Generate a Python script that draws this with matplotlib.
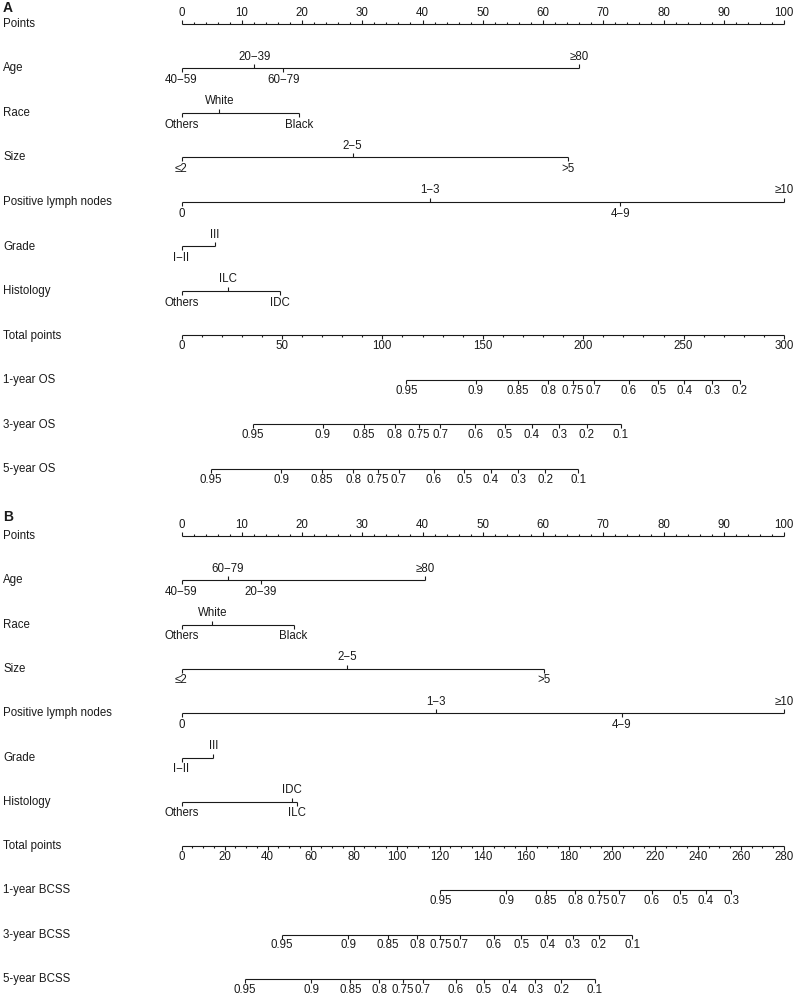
import matplotlib.pyplot as plt
import matplotlib.transforms as mtransforms
import numpy as np

plt.rcParams['font.family'] = ['Liberation Sans', 'DejaVu Sans']

# ---------------- panel A : overall survival ----------------
a_rows = ["Points", "Age", "Race", "Size", "Positive lymph nodes", "Grade",
          "Histology", "Total points", "1-year OS", "3-year OS", "5-year OS"]

a_age_labels = ["40\u221259", "20\u221239", "60\u221279", "\u226580"]
a_age_pts = [0, 12.1, 16.9, 66.0]
a_race_labels = ["Others", "White", "Black"]
a_race_pts = [0, 6.3, 19.5]
a_size_labels = ["\u22642", "2\u22125", ">5"]
a_size_pts = [0, 28.4, 64.2]
a_lymph_labels = ["0", "1\u22123", "4\u22129", "\u226510"]
a_lymph_pts = [0, 41.3, 72.8, 100]
a_grade_labels = ["I\u2212II", "III"]
a_grade_pts = [0, 5.5]
a_hist_labels = ["Others", "ILC", "IDC"]
a_hist_pts = [0, 7.7, 16.3]

a_total_max = 300
a_total_step = 50
a_total_minor = 10

a_os1_probs = [0.95, 0.9, 0.85, 0.8, 0.75, 0.7, 0.6, 0.5, 0.4, 0.3, 0.2]
a_os1_total = [112.0, 146.6, 167.5, 182.7, 195.0, 205.2, 222.6, 237.3, 250.4, 264.2, 277.9]
a_os3_probs = [0.95, 0.9, 0.85, 0.8, 0.75, 0.7, 0.6, 0.5, 0.4, 0.3, 0.2, 0.1]
a_os3_total = [35.6, 70.4, 90.9, 106.3, 118.2, 128.8, 146.2, 161.0, 174.5, 188.2, 201.7, 218.7]
a_os5_probs = [0.95, 0.9, 0.85, 0.8, 0.75, 0.7, 0.6, 0.5, 0.4, 0.3, 0.2, 0.1]
a_os5_total = [14.7, 49.6, 70.0, 85.4, 97.7, 108.1, 125.7, 140.7, 154.0, 167.7, 181.2, 197.6]

# ---------------- panel B : breast cancer specific survival ----------------
b_rows = ["Points", "Age", "Race", "Size", "Positive lymph nodes", "Grade",
          "Histology", "Total points", "1-year BCSS", "3-year BCSS", "5-year BCSS"]

b_age_labels = ["40\u221259", "60\u221279", "20\u221239", "\u226580"]
b_age_pts = [0, 7.7, 13.2, 40.4]
b_race_labels = ["Others", "White", "Black"]
b_race_pts = [0, 5.1, 18.6]
b_size_labels = ["\u22642", "2\u22125", ">5"]
b_size_pts = [0, 27.5, 60.1]
b_lymph_labels = ["0", "1\u22123", "4\u22129", "\u226510"]
b_lymph_pts = [0, 42.3, 73.1, 100]
b_grade_labels = ["I\u2212II", "III"]
b_grade_pts = [0, 5.3]
b_hist_labels = ["Others", "IDC", "ILC"]
b_hist_pts = [0, 18.4, 19.1]

b_total_max = 280
b_total_step = 20
b_total_minor = 5

b_bcss1_probs = [0.95, 0.9, 0.85, 0.8, 0.75, 0.7, 0.6, 0.5, 0.4, 0.3]
b_bcss1_total = [120.3, 150.9, 169.5, 183.1, 194.0, 203.2, 218.5, 231.7, 243.6, 255.5]
b_bcss3_probs = [0.95, 0.9, 0.85, 0.8, 0.75, 0.7, 0.6, 0.5, 0.4, 0.3, 0.2, 0.1]
b_bcss3_total = [46.5, 77.6, 95.9, 109.5, 120.3, 129.5, 145.0, 158.0, 169.9, 181.9, 194.0, 209.5]
b_bcss5_probs = [0.95, 0.9, 0.85, 0.8, 0.75, 0.7, 0.6, 0.5, 0.4, 0.3, 0.2, 0.1]
b_bcss5_total = [29.3, 60.3, 78.5, 91.9, 102.8, 112.0, 127.4, 140.4, 152.3, 164.4, 176.4, 192.1]

# ---------------- style ----------------
W, H = 794, 996
INK = '#1a1a1a'
LW = 0.8
FS = 8.3
TICK = 2.6      # major tick length (pt)
MINOR = 1.3
OFF = 8.3       # label offset from a variable line (pt)
OFF_AXIS = 7.6  # label offset from the numeric / survival lines (pt)
X0, X1 = 181.5, 784

fig = plt.figure(figsize=(W / 100, H / 100), dpi=100)


def panel_axes(y_first, step):
    top = y_first - step / 2
    bottom = y_first + 10 * step + step / 2
    ax = fig.add_axes([X0 / W, 1 - bottom / H, (X1 - X0) / W, (bottom - top) / H])
    ax.set_xlim(0, 100)
    ax.set_ylim(10.5, -0.5)
    ax.axis('off')
    return ax


def label(ax, text, x, row, above, off=OFF):
    ax.annotate(text, (x, row), xytext=(0, off if above else -off),
                textcoords='offset points', ha='center', va='center',
                fontsize=FS, color=INK, annotation_clip=False)


def scale_row(ax, row, vmax, step, minor, above):
    # numeric axis (Points / Total points)
    f = 100.0 / vmax
    ax.plot([0, 100], [row, row], color=INK, lw=LW, solid_capstyle='butt', clip_on=False)
    mk = 2 if above else 3
    majors = np.arange(0, vmax + 1e-9, step)
    minors = [m for m in np.arange(0, vmax + 1e-9, minor) if m % step]
    ax.plot(np.array(minors) * f, [row] * len(minors), ls='none', marker=mk,
            ms=MINOR, mew=LW, color=INK, clip_on=False)
    ax.plot(majors * f, [row] * len(majors), ls='none', marker=mk,
            ms=TICK, mew=LW, color=INK, clip_on=False)
    for m in majors:
        label(ax, f"{m:g}", m * f, row, above, OFF_AXIS)


def variable_row(ax, row, labels, pts):
    pts = np.asarray(pts, dtype=float)
    ax.plot([pts.min(), pts.max()], [row, row], color=INK, lw=LW,
            solid_capstyle='butt', clip_on=False)
    # labels alternate below / above in order of points
    for k, i in enumerate(np.argsort(pts, kind='stable')):
        above = k % 2 == 1
        ax.plot(pts[i], row, marker=2 if above else 3, ms=TICK, mew=LW,
                color=INK, clip_on=False)
        label(ax, labels[i], pts[i], row, above)


def survival_row(ax, row, probs, totals, vmax):
    x = np.asarray(totals) * 100.0 / vmax
    ax.plot([x.min(), x.max()], [row, row], color=INK, lw=LW,
            solid_capstyle='butt', clip_on=False)
    ax.plot(x, [row] * len(x), ls='none', marker=3, ms=TICK, mew=LW,
            color=INK, clip_on=False)
    for p, xi in zip(probs, x):
        label(ax, f"{p:g}", xi, row, False, OFF_AXIS)


def draw_panel(y_first, step, letter, rows, variables, total, survs):
    ax = panel_axes(y_first, step)
    trans = mtransforms.blended_transform_factory(fig.transFigure, ax.transData)
    for r, name in enumerate(rows):
        ax.text(3 / W, r, name, transform=trans, ha='left', va='center',
                fontsize=FS, color=INK)
    letter_y = max(y_first - 19, 8)
    fig.text(3 / W, 1 - letter_y / H, letter, ha='left', va='center',
             fontsize=10, fontweight='bold', color=INK)

    scale_row(ax, 0, 100, 10, 2, above=True)
    for r, (labels, pts) in enumerate(variables, start=1):
        variable_row(ax, r, labels, pts)
    vmax, tstep, minor = total
    scale_row(ax, 7, vmax, tstep, minor, above=False)
    for r, (probs, totals) in enumerate(survs, start=8):
        survival_row(ax, r, probs, totals, vmax)


draw_panel(24, 44.5, "A", a_rows,
           [(a_age_labels, a_age_pts), (a_race_labels, a_race_pts),
            (a_size_labels, a_size_pts), (a_lymph_labels, a_lymph_pts),
            (a_grade_labels, a_grade_pts), (a_hist_labels, a_hist_pts)],
           (a_total_max, a_total_step, a_total_minor),
           [(a_os1_probs, a_os1_total), (a_os3_probs, a_os3_total),
            (a_os5_probs, a_os5_total)])

draw_panel(536, 44.3, "B", b_rows,
           [(b_age_labels, b_age_pts), (b_race_labels, b_race_pts),
            (b_size_labels, b_size_pts), (b_lymph_labels, b_lymph_pts),
            (b_grade_labels, b_grade_pts), (b_hist_labels, b_hist_pts)],
           (b_total_max, b_total_step, b_total_minor),
           [(b_bcss1_probs, b_bcss1_total), (b_bcss3_probs, b_bcss3_total),
            (b_bcss5_probs, b_bcss5_total)])

fig.savefig('out.png', dpi=100)
